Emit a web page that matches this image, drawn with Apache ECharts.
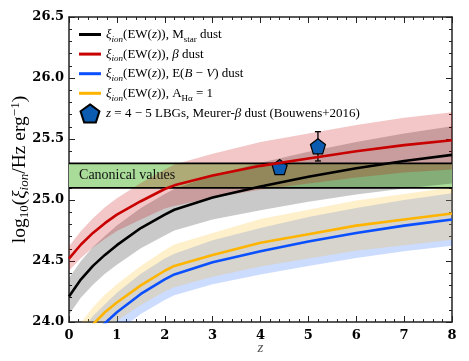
<!DOCTYPE html>
<html>
<head>
<meta charset="utf-8">
<script src="https://cdn.jsdelivr.net/npm/echarts@6/dist/echarts.min.js"></script>
<style>
  html, body { margin: 0; padding: 0; background: #fff; }
  #chart { width: 469px; height: 361px; }
</style>
</head>
<body>
<div id="chart"></div>
<script>
// redshift grid the curves were read at
var zGrid = [0, 0.25, 0.5, 0.75, 1, 1.5, 2, 2.2, 3, 4, 5, 6, 7, 8];

// xi_ion(EW(z)) curves, log10 Hz erg^-1
var mstarLine = [24.21, 24.35, 24.46, 24.55, 24.63, 24.77, 24.88, 24.92, 25.02, 25.11, 25.19, 25.26, 25.32, 25.37];
var mstarLo = [24.06, 24.20, 24.305, 24.395, 24.47, 24.605, 24.71, 24.75, 24.84, 24.915, 24.985, 25.045, 25.095, 25.135];
var mstarHi = [24.36, 24.50, 24.615, 24.705, 24.79, 24.935, 25.05, 25.09, 25.20, 25.305, 25.395, 25.475, 25.545, 25.605];

var betaLine = [24.52, 24.635, 24.73, 24.81, 24.88, 24.99, 25.09, 25.12, 25.20, 25.28, 25.34, 25.40, 25.45, 25.49];
var betaLo = [24.42, 24.525, 24.61, 24.68, 24.745, 24.84, 24.93, 24.95, 25.02, 25.085, 25.135, 25.185, 25.225, 25.25];
var betaHi = [24.62, 24.745, 24.85, 24.94, 25.015, 25.14, 25.25, 25.29, 25.38, 25.475, 25.545, 25.615, 25.675, 25.72];

var ebvLine = [23.63, 23.78, 23.90, 23.99, 24.08, 24.23, 24.35, 24.39, 24.49, 24.58, 24.66, 24.73, 24.79, 24.84];
var ebvLo = [23.49, 23.635, 23.75, 23.835, 23.92, 24.065, 24.18, 24.22, 24.31, 24.39, 24.46, 24.525, 24.58, 24.625];
var ebvHi = [23.77, 23.925, 24.05, 24.145, 24.24, 24.395, 24.52, 24.56, 24.67, 24.77, 24.86, 24.935, 25.0, 25.055];

var ahaLine = [23.72, 23.86, 23.98, 24.08, 24.16, 24.30, 24.42, 24.46, 24.55, 24.65, 24.72, 24.79, 24.84, 24.89];
var ahaLo = [23.59, 23.725, 23.84, 23.935, 24.01, 24.14, 24.25, 24.285, 24.37, 24.455, 24.52, 24.585, 24.63, 24.675];
var ahaHi = [23.85, 23.995, 24.12, 24.225, 24.31, 24.46, 24.59, 24.635, 24.73, 24.845, 24.92, 24.995, 25.05, 25.105];

// canonical range
var canonLo = 25.1;
var canonHi = 25.3;
var canonLabelAt = [0.21, 25.2];

// Bouwens+2016 LBG points: z, value, low, high
var lbgZ = [4.4, 5.2];
var lbgVal = [25.27, 25.44];
var lbgErrLo = [null, 25.32];
var lbgErrHi = [null, 25.56];

var xTicks = [0, 1, 2, 3, 4, 5, 6, 7, 8];
var yTicks = [24.0, 24.5, 25.0, 25.5, 26.0, 26.5];

var SERIF = '"Liberation Serif", "DejaVu Serif", serif';
var PENTAGON = 'path://M0,-10L9.51,-3.09L5.88,8.09L-5.88,8.09L-9.51,-3.09Z';
var LINE_ICON = 'path://M0,0L22,0L22,3L0,3Z';

function pairs(xs, ys) {
    return xs.map(function(x, i) { return [x, ys[i]]; });
}

function band(name, lo, hi, fill) {
    return {
        type: 'custom',
        name: name,
        silent: true,
        data: [0],
        renderItem: function(params, api) {
            var pts = [];
            for (var i = 0; i < zGrid.length; i++) pts.push(api.coord([zGrid[i], hi[i]]));
            for (var j = zGrid.length - 1; j >= 0; j--) pts.push(api.coord([zGrid[j], lo[j]]));
            var cs = params.coordSys;
            return {
                type: 'polygon',
                shape: { points: pts },
                style: { fill: fill },
                clipPath: { type: 'rect', shape: { x: cs.x, y: cs.y, width: cs.width, height: cs.height } }
            };
        }
    };
}

function curve(name, ys, color) {
    return {
        type: 'line',
        name: name,
        data: pairs(zGrid, ys),
        symbol: 'none',
        clip: true,
        lineStyle: { color: color, width: 2.6 },
        itemStyle: { color: color }
    };
}

function flat(v) {
    return {
        type: 'line',
        data: [[xTicks[0], v], [xTicks[xTicks.length - 1], v]],
        symbol: 'none',
        silent: true,
        lineStyle: { color: '#000', width: 1.8 }
    };
}

var legendText = {
    mstar: '{i|ξ}{si|ion}(EW({i|z})), M{s|star} dust',
    beta: '{i|ξ}{si|ion}(EW({i|z})), {i|β} dust',
    ebv: '{i|ξ}{si|ion}(EW({i|z})), E({i|B} − {i|V}) dust',
    aha: '{i|ξ}{si|ion}(EW({i|z})), A{s|Hα} = 1',
    lbg: '{i|z} = 4 − 5 LBGs, Meurer-{i|β} dust (Bouwens+2016)'
};

function axisCommon(show) {
    return {
        axisLine: { show: true, onZero: false, lineStyle: { color: '#222', width: 1.5 } },
        axisTick: { show: true, inside: true, length: 6, lineStyle: { color: '#222', width: 1 } },
        minorTick: { show: true, splitNumber: 5, length: 3, lineStyle: { color: '#222', width: 1 } },
        splitLine: { show: false },
        axisLabel: {
            show: show,
            color: '#000',
            fontFamily: '"DejaVu Serif", serif',
            fontWeight: 'bold',
            fontSize: 13
        }
    };
}

var chart = echarts.init(document.getElementById('chart'), null, { renderer: 'canvas' });

var xBottom = Object.assign(axisCommon(true), {
    type: 'value', min: xTicks[0], max: xTicks[xTicks.length - 1], interval: 1, position: 'bottom',
    name: 'z', nameLocation: 'middle', nameGap: 19, nameMoveOverlap: false,
    nameTextStyle: { fontFamily: SERIF, fontStyle: 'italic', fontSize: 15, color: '#555' }
});
xBottom.axisLabel.margin = 7;
var xTop = Object.assign(axisCommon(false), {
    type: 'value', min: xTicks[0], max: xTicks[xTicks.length - 1], interval: 1, position: 'top'
});
var yLeft = Object.assign(axisCommon(true), {
    type: 'value', min: yTicks[0], max: yTicks[yTicks.length - 1], interval: 0.5, position: 'left',
    name: '{n|log}{sub|10}{n|(}{i|ξ}{isub|ion}{n|/Hz erg}{sup|−1}{n|)}',
    nameLocation: 'middle', nameRotate: 90, nameGap: 38, nameMoveOverlap: false,
    nameTextStyle: {
        fontFamily: SERIF, fontSize: 19, color: '#000',
        rich: {
            n: { fontFamily: SERIF, fontSize: 19.5, lineHeight: 22 },
            i: { fontFamily: SERIF, fontSize: 19.5, fontStyle: 'italic', lineHeight: 22 },
            sub: { fontFamily: SERIF, fontSize: 13, lineHeight: 11, verticalAlign: 'bottom' },
            isub: { fontFamily: SERIF, fontSize: 13, fontStyle: 'italic', lineHeight: 11, verticalAlign: 'bottom' },
            sup: { fontFamily: SERIF, fontSize: 13, lineHeight: 11, verticalAlign: 'top' }
        }
    }
});
yLeft.axisLabel.formatter = function(v) { return v.toFixed(1); };
yLeft.axisLabel.margin = 5;
var yRight = Object.assign(axisCommon(false), {
    type: 'value', min: yTicks[0], max: yTicks[yTicks.length - 1], interval: 0.5, position: 'right'
});

var canonSeries = {
    type: 'custom',
    silent: true,
    data: [0],
    renderItem: function(params, api) {
        var a = api.coord([xTicks[0], canonHi]);
        var b = api.coord([xTicks[xTicks.length - 1], canonLo]);
        return { type: 'rect', shape: { x: a[0], y: a[1], width: b[0] - a[0], height: b[1] - a[1] }, style: { fill: '#a8dc98' } };
    }
};

var canonLabel = {
    type: 'custom',
    silent: true,
    data: [canonLabelAt],
    renderItem: function(params, api) {
        var p = api.coord([api.value(0), api.value(1)]);
        return {
            type: 'text',
            x: p[0], y: p[1],
            style: {
                text: 'Canonical values', fill: '#111',
                font: '14px ' + SERIF,
                textAlign: 'left', textVerticalAlign: 'middle'
            }
        };
    }
};

var errSeries = {
    type: 'custom',
    silent: true,
    data: lbgZ.map(function(z, i) { return [z, lbgErrLo[i], lbgErrHi[i]]; }).filter(function(d) { return d[1] !== null; }),
    renderItem: function(params, api) {
        var lo = api.coord([api.value(0), api.value(1)]);
        var hi = api.coord([api.value(0), api.value(2)]);
        var st = { stroke: '#000', lineWidth: 1.3 };
        return {
            type: 'group',
            children: [
                { type: 'line', shape: { x1: lo[0], y1: lo[1], x2: hi[0], y2: hi[1] }, style: st },
                { type: 'line', shape: { x1: lo[0] - 3, y1: lo[1], x2: lo[0] + 3, y2: lo[1] }, style: st },
                { type: 'line', shape: { x1: hi[0] - 3, y1: hi[1], x2: hi[0] + 3, y2: hi[1] }, style: st }
            ]
        };
    }
};

var option = {
    animation: false,
    backgroundColor: '#fff',
    grid: { left: 69, right: 17, top: 17, bottom: 39, containLabel: false, outerBoundsMode: 'none' },
    xAxis: [xBottom, xTop],
    yAxis: [yLeft, yRight],
    legend: {
        orient: 'vertical',
        left: 79,
        top: 25,
        padding: 0,
        itemWidth: 22,
        itemHeight: 18,
        itemGap: 0.6,
        selectedMode: false,
        data: [
            { name: 'mstar', icon: LINE_ICON },
            { name: 'beta', icon: LINE_ICON },
            { name: 'ebv', icon: LINE_ICON },
            { name: 'aha', icon: LINE_ICON },
            { name: 'lbg' }
        ],
        formatter: function(name) { return legendText[name]; },
        textStyle: {
            fontFamily: SERIF, fontSize: 13, color: '#000', lineHeight: 19,
            rich: {
                i: { fontFamily: SERIF, fontSize: 13, fontStyle: 'italic', lineHeight: 19 },
                si: { fontFamily: SERIF, fontSize: 9, fontStyle: 'italic', lineHeight: 10, verticalAlign: 'bottom' },
                s: { fontFamily: SERIF, fontSize: 9, lineHeight: 10, verticalAlign: 'bottom' }
            }
        }
    },
    series: [
        canonSeries,
        band('mstarBand', mstarLo, mstarHi, 'rgba(0,0,0,0.21)'),
        band('betaBand', betaLo, betaHi, 'rgba(200,0,0,0.22)'),
        band('ebvBand', ebvLo, ebvHi, 'rgba(0,80,255,0.2)'),
        band('ahaBand', ahaLo, ahaHi, 'rgba(255,180,0,0.2)'),
        flat(canonHi),
        flat(canonLo),
        curve('mstar', mstarLine, '#000000'),
        curve('beta', betaLine, '#c80000'),
        curve('ebv', ebvLine, '#0a50ff'),
        curve('aha', ahaLine, '#ffb400'),
        canonLabel,
        errSeries,
        {
            type: 'scatter',
            name: 'lbg',
            data: pairs(lbgZ, lbgVal),
            symbol: PENTAGON,
            symbolSize: 15,
            itemStyle: { color: '#0b5cb0', borderColor: '#000', borderWidth: 1.2, opacity: 1 }
        }
    ]
};

chart.setOption(option);
</script>
</body>
</html>
